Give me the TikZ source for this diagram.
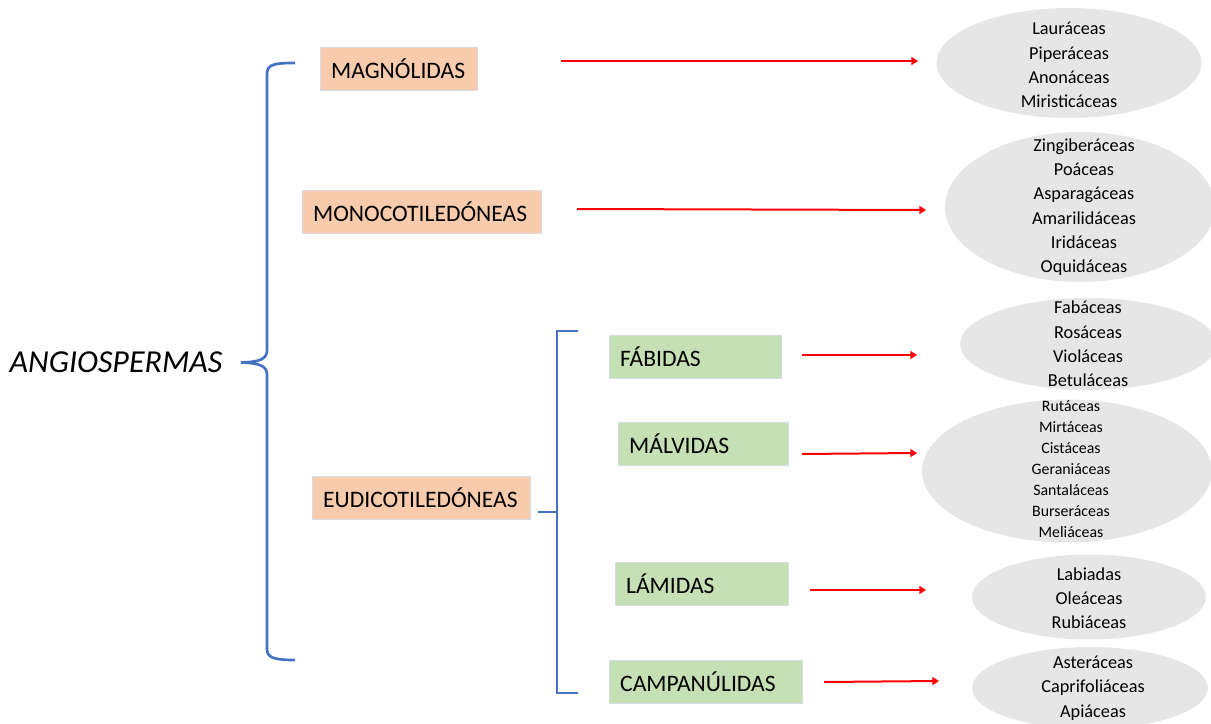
\documentclass[tikz,border=0pt]{standalone}
\usepackage{fontspec}
\setmainfont{Carlito}
\usetikzlibrary{shapes.geometric,arrows.meta}

\definecolor{peach}{RGB}{248,203,173}
\definecolor{leaf}{RGB}{197,224,180}
\definecolor{boxline}{RGB}{214,220,229}
\definecolor{famgray}{RGB}{231,230,230}
\definecolor{bracketblue}{RGB}{68,114,196}

\tikzset{every picture/.style={line width=0.75pt}}
\tikzset{
  cladebox/.style={draw=boxline, line width=0.75pt, anchor=north west, inner xsep=8pt, inner ysep=0pt,
    minimum height=32.25pt, text width=#1, align=left, font=\fontsize{17.7}{21}\selectfont},
  orangebox/.style={cladebox=#1, fill=peach},
  greenbox/.style={cladebox=#1, fill=leaf},
  famblob/.style={ellipse, fill=famgray, draw=none, inner sep=0pt},
  famtext/.style={align=center, inner sep=0pt, font=\fontsize{13.7}{18.2}\selectfont},
  redarrow/.style={draw=red, line width=1.5pt, -{Triangle[length=5pt,width=6pt]}},
  bracket/.style={draw=bracketblue, line width=2pt}
}

\begin{document}
\begin{tikzpicture}[x=0.75pt,y=0.75pt,yscale=-1,xscale=1]
        \useasboundingbox (0,0) rectangle (1211,724);

        % Text Node
        \node [font=\itshape\fontsize{24}{28}\selectfont] (angio) at (116,362) {ANGIOSPERMAS};

        %Shape: Brace [id:angiobrace]
        \coordinate (angio-tip) at (241,362.5);
        \draw [bracket] (295,63) .. controls (275,63) and (267,64) .. (267,74) -- (267,350) .. controls (267,358) and (262,362) .. (angio-tip) .. controls (262,363) and (267,367) .. (267,375) -- (267,649) .. controls (267,658) and (275,660) .. (295,660) ;

        %Shape: Bracket [id:eudibracket]
        \coordinate (eudi-stub) at (538,512);
        \draw [bracket] (578,331) -- (557,331) -- (557,693) -- (578,693) ;
        \draw [bracket] (eudi-stub) -- (557,512) ;

        %Shape: Rectangle [id:magnolidas]
        \node [orangebox=101.75pt] (magn) at (320,47) {MAGNÓLIDAS};
        %Shape: Rectangle [id:monocot]
        \node [orangebox=163.25pt] (mono) at (302,190) {MONOCOTILEDÓNEAS};
        %Shape: Rectangle [id:eudicot]
        \node [orangebox=147.5pt] (eudi) at (312,476) {EUDICOTILEDÓNEAS};

        %Shape: Rectangle [id:fabidas]
        \node [greenbox=113pt] (fab) at (609,335) {FÁBIDAS};
        %Shape: Rectangle [id:malvidas]
        \node [greenbox=111.5pt] (mal) at (618,422) {MÁLVIDAS};
        %Shape: Rectangle [id:lamidas]
        \node [greenbox=113.75pt] (lam) at (615,562) {LÁMIDAS};
        %Shape: Rectangle [id:campanulidas]
        \node [greenbox=128.75pt] (camp) at (609,660) {CAMPANÚLIDAS};

        %Shape: Ellipse [id:magfam]
        \node [famblob, minimum width=198.75pt, minimum height=82.5pt] (magn-e) at (1069,63) {};
        %Shape: Ellipse [id:monofam]
        \node [famblob, minimum width=202.5pt, minimum height=112.5pt] (mono-e) at (1080,207) {};
        %Shape: Ellipse [id:fabfam]
        \node [famblob, minimum width=192pt, minimum height=69pt] (fab-e) at (1088,344) {};
        %Shape: Ellipse [id:malfam]
        \node [famblob, minimum width=217.5pt, minimum height=107.25pt] (mal-e) at (1067,471) {};
        %Shape: Ellipse [id:lamfam]
        \node [famblob, minimum width=175.5pt, minimum height=63.75pt] (lam-e) at (1089,597) {};
        %Shape: Ellipse [id:campfam]
        \node [famblob, minimum width=177pt, minimum height=61.5pt] (camp-e) at (1090,688) {};

        % Text Node
        \node [famtext] (magn-t) at (1069,65) {Lauráceas\\Piperáceas\\Anonáceas\\Miristicáceas};
        % Text Node
        \node [famtext] (mono-t) at (1084,207) {Zingiberáceas\\Poáceas\\Asparagáceas\\Amarilidáceas\\Iridáceas\\Oquidáceas};
        % Text Node
        \node [famtext] (fab-t) at (1088,344) {Fabáceas\\Rosáceas\\Violáceas\\Betuláceas};
        % Text Node
        \node [famtext, font=\fontsize{11.9}{15.75}\selectfont] (mal-t) at (1071,469) {Rutáceas\\Mirtáceas\\Cistáceas\\Geraniáceas\\Santaláceas\\Burseráceas\\Meliáceas};
        % Text Node
        \node [famtext] (lam-t) at (1089,598) {Labiadas\\Oleáceas\\Rubiáceas};
        % Text Node
        \node [famtext] (camp-t) at (1093,688) {Asteráceas\\Caprifoliáceas\\Apiáceas};

        %Straight Lines [id:arrows]
        \coordinate (magn-a) at (561,61);  \coordinate (magn-b) at (918,61);
        \coordinate (mono-a) at (577,209); \coordinate (mono-b) at (926,210);
        \coordinate (fab-a) at (802,355);  \coordinate (fab-b) at (917,355);
        \coordinate (mal-a) at (802,454);  \coordinate (mal-b) at (917,453);
        \coordinate (lam-a) at (810,590);  \coordinate (lam-b) at (926,590);
        \coordinate (camp-a) at (824,682); \coordinate (camp-b) at (939,681);
        \draw [redarrow] (magn-a) -- (magn-b) ;
        \draw [redarrow] (mono-a) -- (mono-b) ;
        \draw [redarrow] (fab-a) -- (fab-b) ;
        \draw [redarrow] (mal-a) -- (mal-b) ;
        \draw [redarrow] (lam-a) -- (lam-b) ;
        \draw [redarrow] (camp-a) -- (camp-b) ;

\end{tikzpicture}
\end{document}
